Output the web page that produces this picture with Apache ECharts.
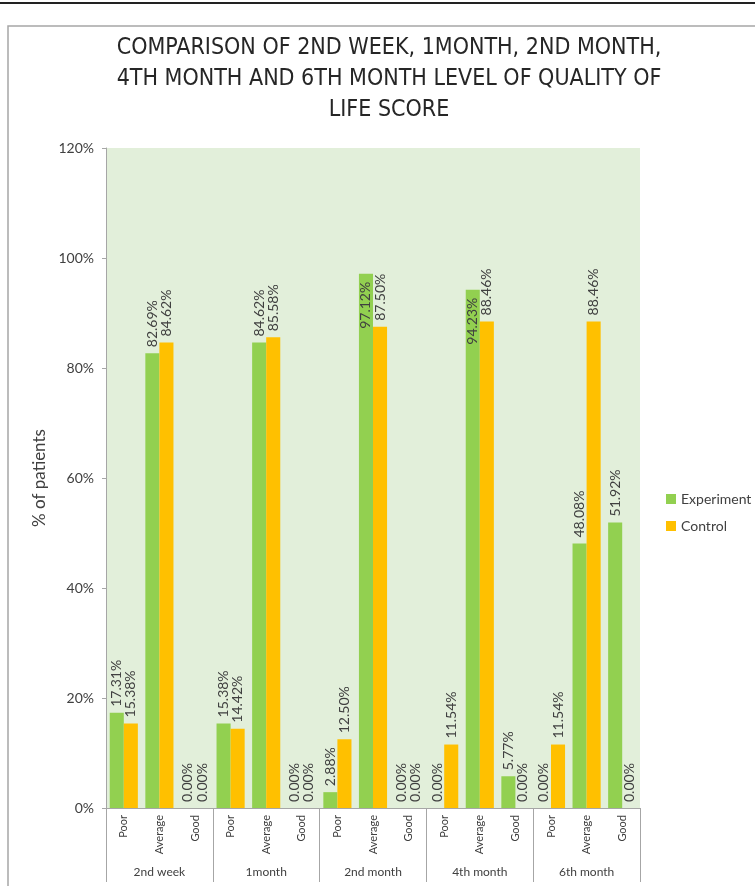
<!DOCTYPE html>
<html>
<head>
<meta charset="utf-8">
<title>Quality of life score</title>
<script src="https://cdn.jsdelivr.net/npm/echarts@6/dist/echarts.min.js"></script>
<style>
    html, body { margin: 0; padding: 0; background: #fff; }
    #chart { width: 755px; height: 886px; }
</style>
</head>
<body>
<div id="chart"></div>
<script>
// periods and the three levels inside each period
var periods = ['2nd week', '1month', '2nd month', '4th month', '6th month'];
var levels = ['Poor', 'Average', 'Good'];
var yTicks = [0, 20, 40, 60, 80, 100, 120];

// % of patients, in order period by period: Poor, Average, Good
var experiment = [17.31, 82.69, 0.00, 15.38, 84.62, 0.00, 2.88, 97.12, 0.00, 0.00, 94.23, 5.77, 0.00, 48.08, 51.92];
var control = [15.38, 84.62, 0.00, 14.42, 85.58, 0.00, 12.50, 87.50, 0.00, 11.54, 88.46, 0.00, 11.54, 88.46, 0.00];

var categories = [];
for (var i = 0; i < periods.length; i++) {
    for (var j = 0; j < levels.length; j++) {
        categories.push(levels[j]);
    }
}

var textColor = '#404040';
var font = 'Lato, "Noto Sans", sans-serif';

var pctLabel = function (p) {
    return p.value.toFixed(2) + '%';
};

// the tallest bars carry their label inside the top of the bar, like the original
var toSeriesData = function (arr) {
    var out = [];
    for (var k = 0; k < arr.length; k++) {
        if (arr[k] > 90) {
            out.push({
                value: arr[k],
                label: {position: 'insideTop', align: 'right', distance: 8}
            });
        } else {
            out.push(arr[k]);
        }
    }
    return out;
};

var barLabel = {
    show: true,
    position: 'top',
    rotate: 90,
    align: 'left',
    verticalAlign: 'middle',
    distance: 6,
    formatter: pctLabel,
    color: textColor,
    fontFamily: font,
    fontSize: 14
};

var option = {
    animation: false,
    backgroundColor: '#fff',
    title: {
        text: 'COMPARISON OF 2ND WEEK, 1MONTH, 2ND MONTH,\n4TH MONTH AND 6TH MONTH LEVEL OF QUALITY OF\nLIFE SCORE',
        left: 384,
        top: 28,
        textAlign: 'center',
        textStyle: {
            fontFamily: '"Liberation Sans Narrow", "DejaVu Sans Condensed", sans-serif',
            fontSize: 23,
            fontWeight: 'normal',
            lineHeight: 31,
            color: '#262626'
        }
    },
    graphic: [
        {type: 'line', shape: {x1: 0, y1: 3, x2: 755, y2: 3}, style: {stroke: '#222', lineWidth: 2}},
        {type: 'rect', shape: {x: 8, y: 26, width: 800, height: 900}, style: {fill: null, stroke: '#a6a6a6', lineWidth: 1.5}}
    ],
    legend: {
        orient: 'vertical',
        left: 661,
        top: 487,
        itemWidth: 10,
        itemHeight: 10,
        itemGap: 13,
        icon: 'rect',
        textStyle: {color: textColor, fontFamily: font, fontSize: 14},
        data: ['Experiment', 'Control']
    },
    grid: {
        left: 106,
        right: 115,
        top: 148,
        bottom: 78,
        show: true,
        backgroundColor: '#e2efda',
        borderWidth: 0
    },
    xAxis: [
        {
            type: 'category',
            data: categories,
            position: 'bottom',
            axisLine: {lineStyle: {color: '#a6a6a6'}},
            axisTick: {show: false},
            axisLabel: {
                interval: 0,
                rotate: 90,
                margin: 7,
                color: textColor,
                fontFamily: font,
                fontSize: 11
            }
        },
        {
            type: 'category',
            data: periods,
            position: 'bottom',
            offset: 0,
            axisLine: {show: false},
            axisTick: {show: true, length: 74, lineStyle: {color: '#a6a6a6'}},
            axisLabel: {
                interval: 0,
                margin: 58,
                color: textColor,
                fontFamily: font,
                fontSize: 12
            }
        }
    ],
    yAxis: {
        type: 'value',
        min: yTicks[0],
        max: yTicks[yTicks.length - 1],
        interval: yTicks[1] - yTicks[0],
        name: '% of patients',
        nameLocation: 'middle',
        nameGap: 56,
        nameTextStyle: {color: textColor, fontFamily: font, fontSize: 17},
        axisLine: {show: true, lineStyle: {color: '#a6a6a6'}},
        axisTick: {show: true, length: 4, lineStyle: {color: '#a6a6a6'}},
        splitLine: {show: false},
        axisLabel: {
            margin: 12,
            color: textColor,
            fontFamily: font,
            fontSize: 14,
            formatter: '{value}%'
        }
    },
    series: [
        {
            name: 'Experiment',
            type: 'bar',
            xAxisIndex: 0,
            data: toSeriesData(experiment),
            barGap: 0,
            barCategoryGap: '21%',
            itemStyle: {color: '#92d050'},
            label: barLabel
        },
        {
            name: 'Control',
            type: 'bar',
            xAxisIndex: 0,
            data: toSeriesData(control),
            barGap: 0,
            barCategoryGap: '21%',
            itemStyle: {color: '#ffc000'},
            label: barLabel
        }
    ]
};

var myChart = echarts.init(document.getElementById('chart'));
myChart.setOption(option);
</script>
</body>
</html>
